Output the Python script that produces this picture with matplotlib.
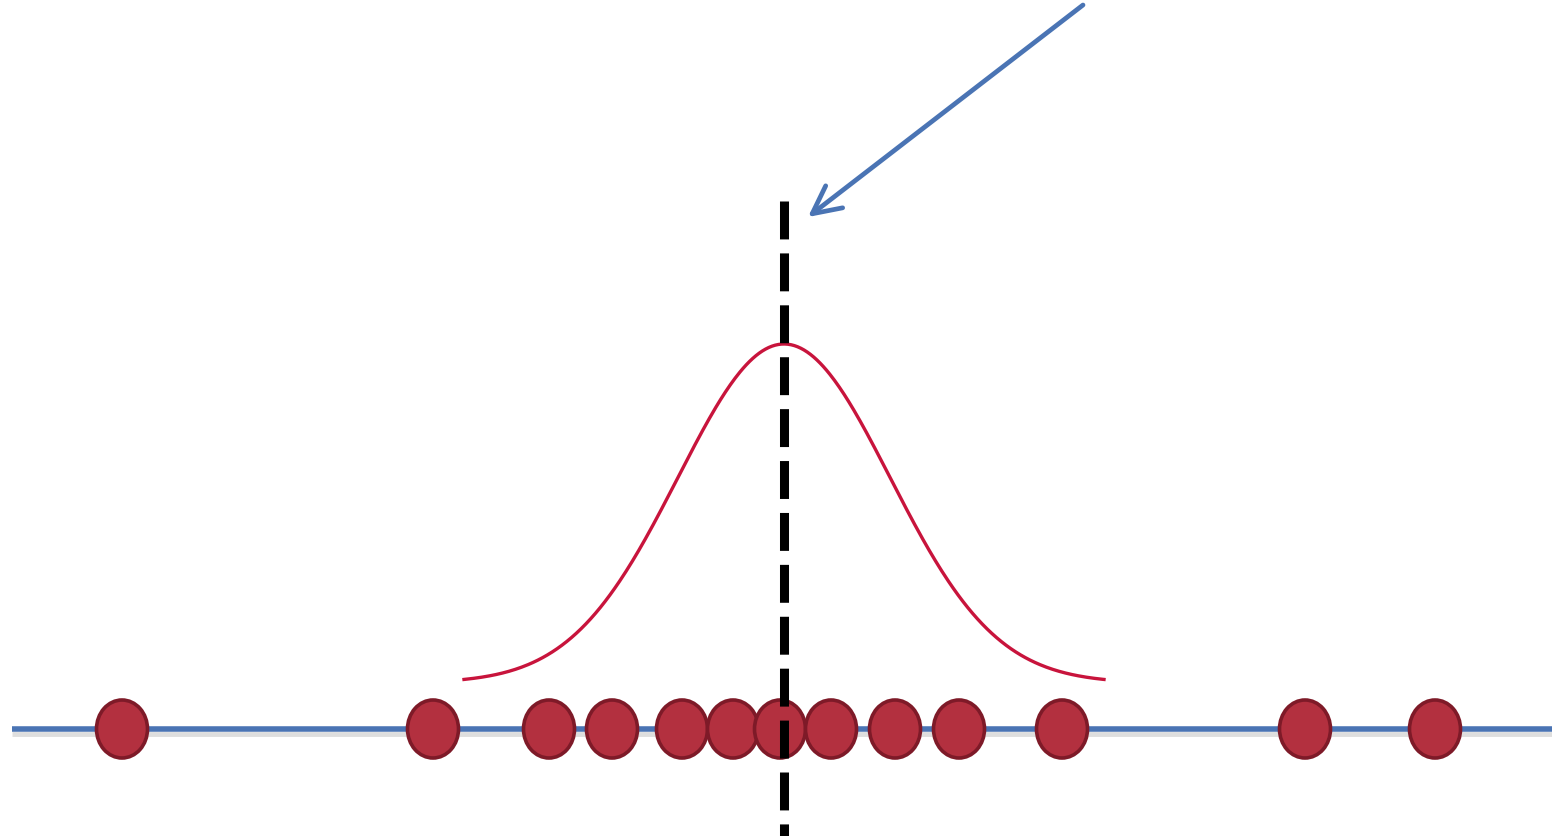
import numpy as np
import matplotlib.pyplot as plt
from matplotlib.patches import Ellipse

# observations along the number line
obs_x = [122, 433, 549, 612, 682, 733, 780, 831, 895, 959, 1062, 1305, 1435]

# bell curve drawn over the cluster
curve_mu = 784
curve_sigma = 106
curve_half_span = 320
curve_base = 46
curve_peak = 385

# dashed marker for the centre, and the arrow pointing at it
center_x = 784
center_top = 528
arrow_start = (1083, 724)
arrow_end = (808, 512)

line_blue = '#4a74b4'
dot_fill = '#b3303f'
dot_edge = '#7e1a28'
curve_red = '#c8143c'

fig = plt.figure(figsize=(15.52, 8.37), dpi=100)
ax = fig.add_axes([0, 0, 1, 1])
ax.set_xlim(0, 1552)
ax.set_ylim(-107, 730)
ax.axis('off')

# number line with a soft grey shadow underneath
ax.plot([12, 1552], [-5, -5], color='#c8c8c8', lw=3.5, alpha=0.6,
        solid_capstyle='butt', zorder=1)
ax.plot([12, 1552], [0, 0], color=line_blue, lw=4.0,
        solid_capstyle='butt', zorder=2)

# observations as slightly tall dots, left to right so each overlaps the previous
for i, x in enumerate(obs_x):
    ax.add_patch(Ellipse((x, 0), 51, 58, facecolor=dot_fill,
                         edgecolor=dot_edge, lw=2.6, zorder=3 + i * 0.01))

# gaussian curve
xs = np.linspace(curve_mu - curve_half_span, curve_mu + curve_half_span, 400)
ys = curve_base + (curve_peak - curve_base) * np.exp(-0.5 * ((xs - curve_mu) / curve_sigma) ** 2)
ax.plot(xs, ys, color=curve_red, lw=2.4, zorder=4)

# dashed vertical line through the centre
ax.plot([center_x, center_x], [center_top, -107], color='black', lw=6.5,
        linestyle=(0, (4.2, 1.55)), dash_capstyle='butt', zorder=5)

# arrow pointing at the dashed line
ax.annotate('', xy=arrow_end, xytext=arrow_start,
            arrowprops=dict(arrowstyle='->,head_length=2.0,head_width=1.0',
                            color=line_blue, lw=3.4, mutation_scale=10,
                            shrinkA=0, shrinkB=0),
            zorder=6)

fig.savefig('out.png', dpi=100, facecolor='white')
